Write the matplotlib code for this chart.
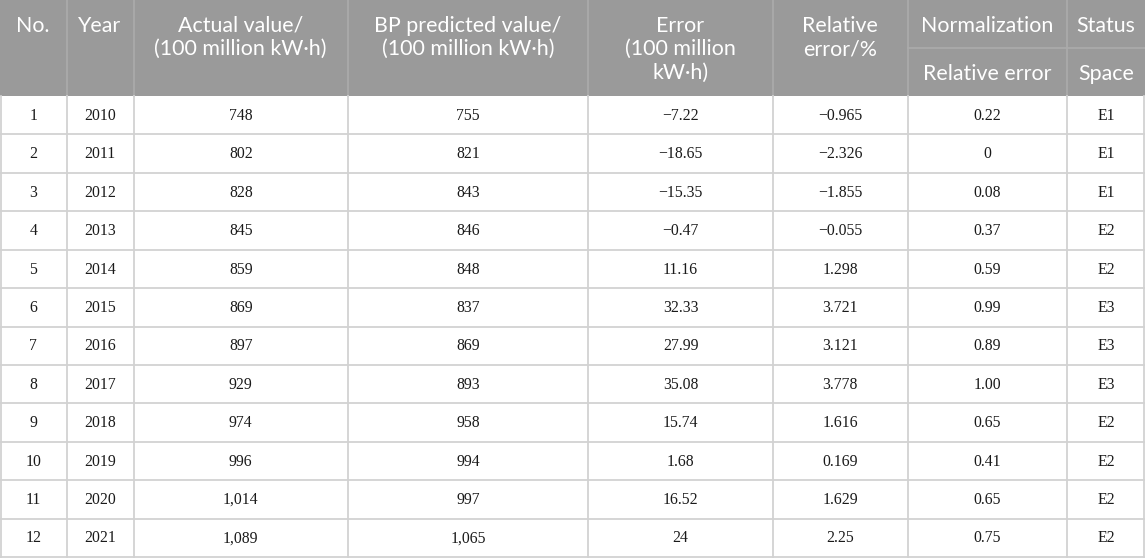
import matplotlib.pyplot as plt
from matplotlib.patches import Rectangle

# Table data
no = [str(i) for i in range(1, 13)]
years = ["2010", "2011", "2012", "2013", "2014", "2015", "2016", "2017",
         "2018", "2019", "2020", "2021"]
actual = ["748", "802", "828", "845", "859", "869", "897", "929", "974",
          "996", "1,014", "1,089"]
bp_pred = ["755", "821", "843", "846", "848", "837", "869", "893", "958",
           "994", "997", "1,065"]
error = ["\u22127.22", "\u221218.65", "\u221215.35", "\u22120.47", "11.16",
         "32.33", "27.99", "35.08", "15.74", "1.68", "16.52", "24"]
rel_error = ["\u22120.965", "\u22122.326", "\u22121.855", "\u22120.055",
             "1.298", "3.721", "3.121", "3.778", "1.616", "0.169", "1.629",
             "2.25"]
norm_rel = ["0.22", "0", "0.08", "0.37", "0.59", "0.99", "0.89", "1.00",
            "0.65", "0.41", "0.65", "0.75"]
status = ["E1", "E1", "E1", "E2", "E2", "E3", "E3", "E3", "E2", "E2", "E2",
          "E2"]

headers = [
    ["No."],
    ["Year"],
    ["Actual value/", "(100 million kW\u00b7h)"],
    ["BP predicted value/", "(100 million kW\u00b7h)"],
    ["Error", "(100 million", "kW\u00b7h)"],
    ["Relative", "error/%"],
    ["Normalization"],
    ["Status"],
]
sub_headers = {6: "Relative error", 7: "Space"}

columns = [no, years, actual, bp_pred, error, rel_error, norm_rel, status]

# layout (pixels)
W, H = 1145, 558
col_edges = [0, 66.5, 133.5, 348, 588, 773, 907.5, 1067, 1145]
head_h = 96
row_h = (557 - head_h) / 12
sub_y = 48

head_bg = "#9a9a9a"
head_line = "#ababab"
body_line = "#d2d2d2"

fig = plt.figure(figsize=(W / 100, H / 100), dpi=100)
ax = fig.add_axes([0, 0, 1, 1])
ax.set_xlim(0, W)
ax.set_ylim(H, 0)
ax.set_axis_off()

# header background
ax.add_patch(Rectangle((0, 0), W, head_h, facecolor=head_bg, edgecolor="none"))

# header vertical separators
for x in col_edges[1:-1]:
    ax.plot([x, x], [0, head_h], color=head_line, lw=1.2)
ax.plot([col_edges[6], W], [sub_y, sub_y], color=head_line, lw=1.2)

# header text
hfont = dict(family=["Lato", "DejaVu Sans"], fontsize=15.4, color="white")
for i, lines in enumerate(headers):
    cx = (col_edges[i] + col_edges[i + 1]) / 2
    for j, line in enumerate(lines):
        ax.text(cx, 32 + j * 23.2, line, ha="center", va="baseline", **hfont)
for i, txt in sub_headers.items():
    cx = (col_edges[i] + col_edges[i + 1]) / 2
    ax.text(cx, 80, txt, ha="center", va="baseline", **hfont)

# body grid
for r in range(1, 13):
    y = head_h + r * row_h
    ax.plot([0, W], [y, y], color=body_line, lw=1.3)
for x in col_edges:
    xx = min(max(x, 0.6), W - 0.6)
    ax.plot([xx, xx], [head_h, 557], color=body_line, lw=1.3)

# body text
bfont = dict(family=["Liberation Serif", "DejaVu Serif"], fontsize=11.3,
             color="#1a1a1a")
for i, col in enumerate(columns):
    cx = (col_edges[i] + col_edges[i + 1]) / 2
    for r, val in enumerate(col):
        cy = head_h + (r + 0.5) * row_h
        ax.text(cx, cy + 4.7, val, ha="center", va="baseline", **bfont)

fig.savefig("out.png", dpi=100)
